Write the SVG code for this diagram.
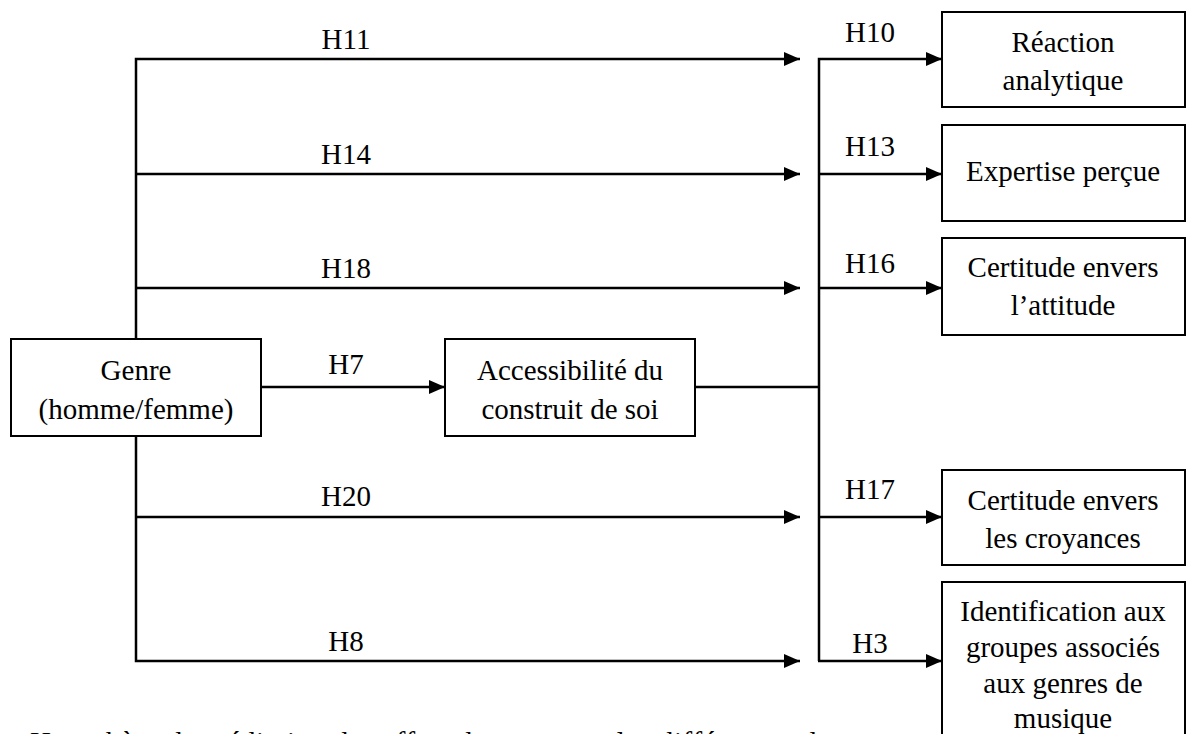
<svg xmlns="http://www.w3.org/2000/svg" width="1187" height="734" viewBox="0 0 1187 734">
<style>
.box{fill:#fff;stroke:#000;stroke-width:2}
.ln{fill:none;stroke:#000;stroke-width:2.5}
text{font-family:"Liberation Serif","Times New Roman",serif;font-size:29px;fill:#000;text-anchor:middle}
</style>
<defs>
<marker id="ah" viewBox="0 0 16 14" refX="16" refY="7" markerWidth="16" markerHeight="14" markerUnits="userSpaceOnUse" orient="auto">
<path d="M0,0 L16,7 L0,14 Z" fill="#000"/>
</marker>
</defs>
<rect width="1187" height="734" fill="#fff"/>
<g id="connectors">
<path class="ln" d="M136,339 V59 H800" marker-end="url(#ah)"/>
<path class="ln" d="M136,174 H800" marker-end="url(#ah)"/>
<path class="ln" d="M136,288 H800" marker-end="url(#ah)"/>
<path class="ln" d="M136,436 V661 H800" marker-end="url(#ah)"/>
<path class="ln" d="M136,517 H800" marker-end="url(#ah)"/>
<path class="ln" d="M261,387 H445" marker-end="url(#ah)"/>
<path class="ln" d="M695,387 H819"/>
<path class="ln" d="M819,661 V59 H942" marker-end="url(#ah)"/>
<path class="ln" d="M819,174 H942" marker-end="url(#ah)"/>
<path class="ln" d="M819,288 H942" marker-end="url(#ah)"/>
<path class="ln" d="M819,517 H942" marker-end="url(#ah)"/>
<path class="ln" d="M818,661 H942" marker-end="url(#ah)"/>
<text x="346" y="49">H11</text>
<text x="346" y="164">H14</text>
<text x="346" y="278">H18</text>
<text x="346" y="374">H7</text>
<text x="346" y="506">H20</text>
<text x="346" y="651">H8</text>
<text x="870" y="42">H10</text>
<text x="870" y="156">H13</text>
<text x="870" y="273">H16</text>
<text x="870" y="499">H17</text>
<text x="870" y="653">H3</text>
</g>
<g id="genre">
<rect class="box" x="11" y="339" width="250" height="97"/>
<text x="136" y="380">Genre</text>
<text x="136" y="419">(homme/femme)</text>
</g>
<g id="accessibilite">
<rect class="box" x="445" y="339" width="250" height="97"/>
<text x="570" y="380">Accessibilité du</text>
<text x="570" y="419">construit de soi</text>
</g>
<g id="reaction">
<rect class="box" x="942" y="12" width="243" height="95"/>
<text x="1063" y="52">Réaction</text>
<text x="1063" y="90">analytique</text>
</g>
<g id="expertise">
<rect class="box" x="942" y="125" width="243" height="96"/>
<text x="1063" y="181">Expertise perçue</text>
</g>
<g id="certitude-attitude">
<rect class="box" x="942" y="238" width="243" height="97"/>
<text x="1063" y="277">Certitude envers</text>
<text x="1063" y="315">l’attitude</text>
</g>
<g id="certitude-croyances">
<rect class="box" x="942" y="470" width="243" height="95"/>
<text x="1063" y="510">Certitude envers</text>
<text x="1063" y="548">les croyances</text>
</g>
<g id="identification">
<rect class="box" x="942" y="582" width="243" height="170"/>
<text x="1063" y="621">Identification aux</text>
<text x="1063" y="657">groupes associés</text>
<text x="1063" y="693">aux genres de</text>
<text x="1063" y="728">musique</text>
</g>
<text x="30" y="752" style="text-anchor:start" textLength="800" lengthAdjust="spacing">Hypothèse de médiation des effets du genre sur les différences de</text>
</svg>
